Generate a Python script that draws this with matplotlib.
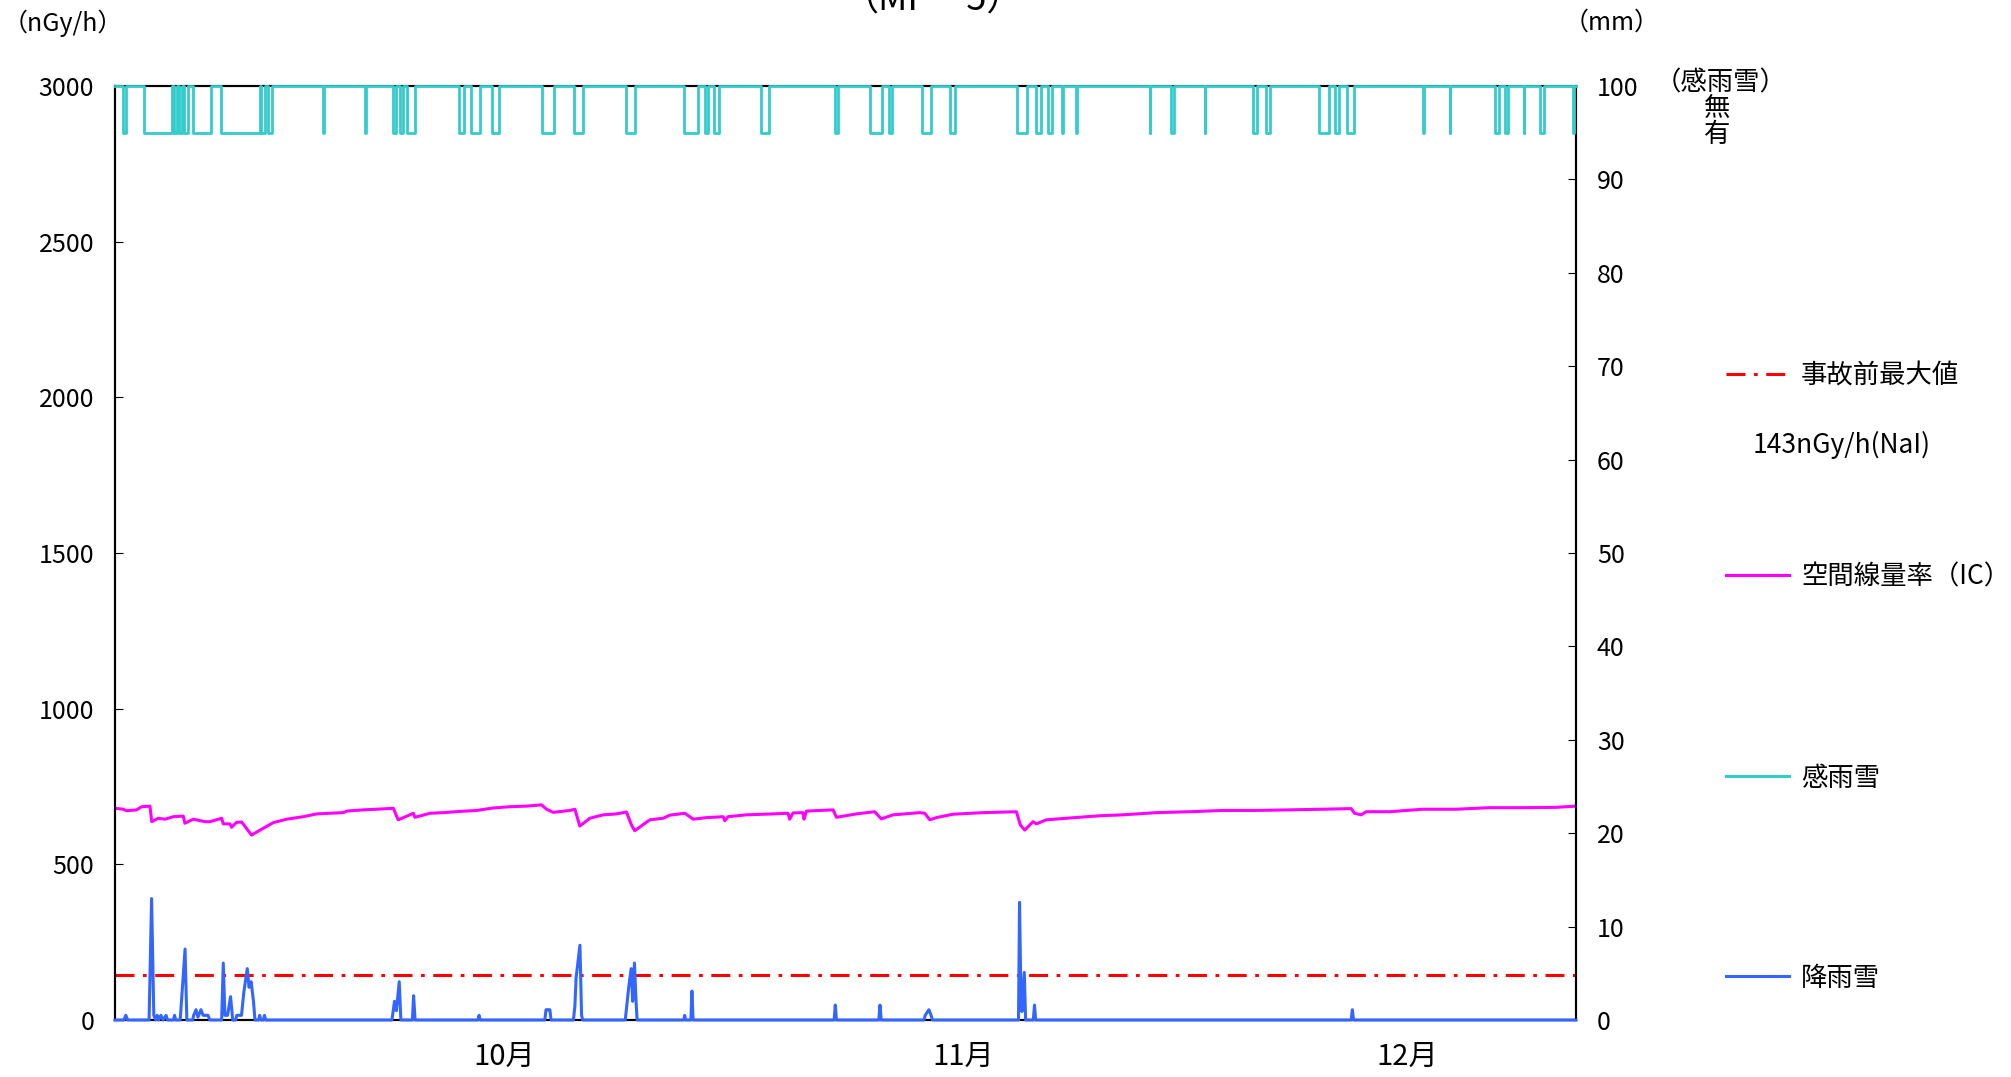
import matplotlib
matplotlib.use('Agg')
import matplotlib.pyplot as plt
from matplotlib.lines import Line2D

plt.rcParams['font.family'] = ['Noto Sans CJK JP', 'DejaVu Sans']

# x values are days counted from the left edge of the plot
x_end = 98.64
month_day = [26.25, 57.25, 87.25]
month_label = ['10月', '11月', '12月']

# 空間線量率(IC), nGy/h
dose_day = [0.0, 0.56, 0.79, 1.46, 1.80, 2.36, 2.48, 2.92, 3.38, 3.94, 4.61, 4.72,
            5.29, 6.07, 6.41, 7.20, 7.31, 7.76, 7.87, 8.21, 8.55, 9.22, 9.79, 10.69,
            11.59, 12.71, 13.61, 14.51, 15.41, 15.64, 16.76, 17.66, 18.79, 19.12, 19.91,
            20.14, 20.25, 21.26, 22.16, 23.28, 24.41, 25.53, 26.66, 27.78, 28.80, 29.13,
            29.58, 30.71, 31.05, 31.38, 32.06, 32.96, 33.86, 34.53, 34.87, 35.09, 36.11,
            37.01, 37.46, 38.47, 39.04, 39.93, 41.06, 41.17, 41.39, 42.63, 44.43, 45.44,
            45.55, 45.78, 46.45, 46.52, 46.68, 48.48, 48.71, 50.06, 51.29, 51.74, 52.53,
            54.33, 54.67, 55.01, 55.45, 56.58, 58.61, 60.86, 61.13, 61.42, 61.98, 62.21,
            62.88, 64.23, 66.48, 68.05, 70.30, 72.55, 74.80, 77.05, 79.30, 81.55, 83.46,
            83.69, 84.14, 84.47, 86.05, 88.30, 90.55, 92.80, 95.05, 97.29, 98.64]
dose_val = [680, 677, 672, 675, 685, 687, 637, 648, 645, 653, 655, 632,
            645, 637, 637, 648, 630, 630, 619, 635, 636, 594, 610, 634,
            645, 653, 662, 664, 666, 671, 675, 677, 680, 643, 659,
            664, 651, 664, 666, 670, 673, 681, 685, 687, 691, 677,
            667, 673, 677, 623, 648, 659, 662, 668, 626, 608, 643,
            648, 658, 664, 645, 650, 653, 640, 653, 659, 662, 664,
            645, 665, 666, 645, 671, 675, 651, 662, 669, 646, 659,
            666, 664, 643, 650, 661, 666, 669, 626, 610, 637, 630,
            643, 648, 656, 659, 666, 669, 673, 673, 675, 677, 679,
            664, 659, 669, 669, 677, 677, 682, 682, 683, 687]

# 降雨雪, mm
rain_day = [0.0, 0.60, 0.73, 0.86, 2.30, 2.47, 2.62, 2.75, 2.85, 2.95, 3.10, 3.25,
            3.45, 3.55, 3.95, 4.02, 4.10, 4.40, 4.51, 4.73, 4.85, 5.25, 5.31, 5.47,
            5.60, 5.80, 5.95, 6.28, 6.40, 7.20, 7.31, 7.42, 7.60, 7.80, 7.95, 8.15,
            8.22, 8.54, 8.70, 8.93, 9.05, 9.19, 9.35, 9.45, 9.70, 9.77, 9.85, 10.02,
            10.09, 10.17, 18.70, 18.87, 19.00, 19.19, 19.30, 20.08, 20.16, 20.26,
            24.50, 24.58, 24.66, 29.02, 29.10, 29.23, 29.36, 29.44, 30.95, 31.05,
            31.13, 31.39, 31.50, 31.58, 34.45, 34.69, 34.85, 34.95, 35.07, 35.18,
            35.25, 38.40, 38.46, 38.53, 38.88, 38.95, 39.03, 48.55, 48.63, 48.71,
            51.57, 51.65, 51.73, 54.62, 54.70, 54.95, 55.10, 55.18, 61.00, 61.07,
            61.16, 61.23, 61.39, 61.48, 62.00, 62.08, 62.16, 83.46, 83.54, 83.62, 98.64]
rain_mm = [0, 0, 0.5, 0, 0, 13.0, 0.5, 0, 0.5, 0, 0.5, 0,
           0.5, 0, 0, 0.5, 0, 0, 2.5, 7.6, 0, 0, 0.5, 1.1,
           0.3, 1.1, 0.5, 0.5, 0, 0, 6.1, 0.5, 0.5, 2.5, 0, 0,
           0.5, 0.5, 3.0, 5.5, 3.5, 4.1, 2.0, 0, 0, 0.5, 0, 0,
           0.5, 0, 0, 2.0, 1.0, 4.1, 0, 0, 2.6, 0,
           0, 0.5, 0, 0, 1.1, 1.1, 1.1, 0, 0, 1.5,
           4.5, 8.0, 0.5, 0, 0, 3.6, 5.5, 2.0, 6.1, 2.0,
           0, 0, 0.5, 0, 0, 3.1, 0, 0, 1.6, 0,
           0, 1.6, 0, 0, 0.5, 1.1, 0.5, 0, 0, 12.6,
           3.0, 0.9, 5.1, 0, 0, 1.6, 0, 0, 1.1, 0, 0]

# 感雨雪: periods when the sensor switched state (start, end day)
sense_start = [0.53, 1.94, 3.98, 4.31, 4.64, 5.26, 7.15, 9.85, 10.33, 14.02, 16.86,
               18.75, 19.23, 19.70, 23.25, 24.05, 25.48, 28.84, 30.96, 34.47, 38.40,
               39.82, 40.43, 43.60, 48.58, 50.95, 52.27, 54.50, 56.39, 60.88, 62.21,
               63.01, 63.97, 64.91, 69.85, 71.27, 73.56, 76.80, 77.68, 81.32, 82.34,
               83.21, 88.34, 90.10, 93.20, 93.88, 95.10, 96.18, 98.41]
sense_end = [0.76, 3.84, 4.17, 4.55, 4.93, 6.45, 9.76, 10.12, 10.60, 14.08, 16.92,
             18.99, 19.46, 20.27, 23.58, 24.67, 25.95, 29.64, 31.63, 35.09, 39.35,
             40.06, 40.76, 44.17, 48.82, 51.80, 52.46, 55.11, 56.72, 61.60, 62.54,
             63.24, 64.03, 64.97, 69.91, 71.47, 73.62, 77.07, 77.95, 81.93, 82.67,
             83.68, 88.40, 90.16, 93.47, 94.08, 95.16, 96.45, 98.50]
sense_off = 100
sense_on = 95

pre_accident_max = 143

DOSE_C = '#FF00FF'
SENSE_C = '#33CCCC'
RAIN_C = '#3366FF'
MAX_C = '#FF0000'
MAX_LS = (0, (6.2, 2.8, 1.2, 2.8))


def sense_steps():
    sx, sy = [0.0], [sense_off]
    for a, b in zip(sense_start, sense_end):
        sx += [a, a, b, b]
        sy += [sense_off, sense_on, sense_on, sense_off]
    sx.append(x_end)
    sy.append(sense_off)
    return sx, sy


def main():
    W, H = 2011, 1077
    fig = plt.figure(figsize=(W / 100, H / 100), dpi=100)
    left, right, bottom, top = 115 / W, 1576 / W, 1 - 1020 / H, 1 - 86 / H
    ax = fig.add_axes([left, bottom, right - left, top - bottom])

    ax.plot(dose_day, dose_val, color=DOSE_C, lw=2.2)
    ax.axhline(pre_accident_max, color=MAX_C, lw=2.2, ls=MAX_LS)
    ax.set_xlim(0, x_end)
    ax.set_ylim(0, 3000)
    ax.set_yticks(range(0, 3001, 500))
    ax.set_xticks(month_day)
    ax.set_xticklabels(month_label)
    ax.tick_params(axis='y', direction='in', length=6, labelsize=18, pad=15)
    ax.tick_params(axis='x', length=0, labelsize=21, pad=16)

    ax2 = ax.twinx()
    sx, sy = sense_steps()
    ax2.plot(sx, sy, color=SENSE_C, lw=2.0, zorder=3, clip_on=False)
    ax2.plot(rain_day, rain_mm, color=RAIN_C, lw=2.2, zorder=3, clip_on=False)
    ax2.set_ylim(0, 100)
    ax2.set_yticks(range(0, 101, 10))
    ax2.tick_params(axis='y', direction='in', length=6, labelsize=18, pad=15)

    for a in (ax, ax2):
        for s in a.spines.values():
            s.set_linewidth(1.5)
            s.set_color('black')

    fig.text(63 / W, 1 - 23 / H, '（nGy/h）', fontsize=18, ha='center', va='center')
    fig.text(1612 / W, 1 - 23 / H, '（mm）', fontsize=18, ha='center', va='center')
    fig.text(933 / W, 1 - 11 / H, '（MP－5）', fontsize=26, ha='center', va='baseline')
    fig.text(1721 / W, 1 - 83 / H, '（感雨雪）', fontsize=19, ha='center', va='center')
    fig.text(1717 / W, 1 - 108 / H, '無', fontsize=19, ha='center', va='center')
    fig.text(1717 / W, 1 - 134 / H, '有', fontsize=19, ha='center', va='center')

    entries = [
        (Line2D([], [], color=MAX_C, lw=2.2, ls=MAX_LS), '事故前最大値', 376),
        (Line2D([], [], color=DOSE_C, lw=2.2), '空間線量率（IC）', 577),
        (Line2D([], [], color=SENSE_C, lw=2.2), '感雨雪', 778),
        (Line2D([], [], color=RAIN_C, lw=2.2), '降雨雪', 978),
    ]
    for handle, label, y in entries:
        fig.legend([handle], [label], loc='center left', bbox_to_anchor=(1726 / W, 1 - y / H),
                   frameon=False, fontsize=19, handlelength=2.4, handletextpad=0.45,
                   borderpad=0, borderaxespad=0)
    fig.text(1753 / W, 1 - 445 / H, '143nGy/h(NaI)', fontsize=19, ha='left', va='center')

    fig.savefig('out.png', dpi=100)


if __name__ == '__main__':
    main()
